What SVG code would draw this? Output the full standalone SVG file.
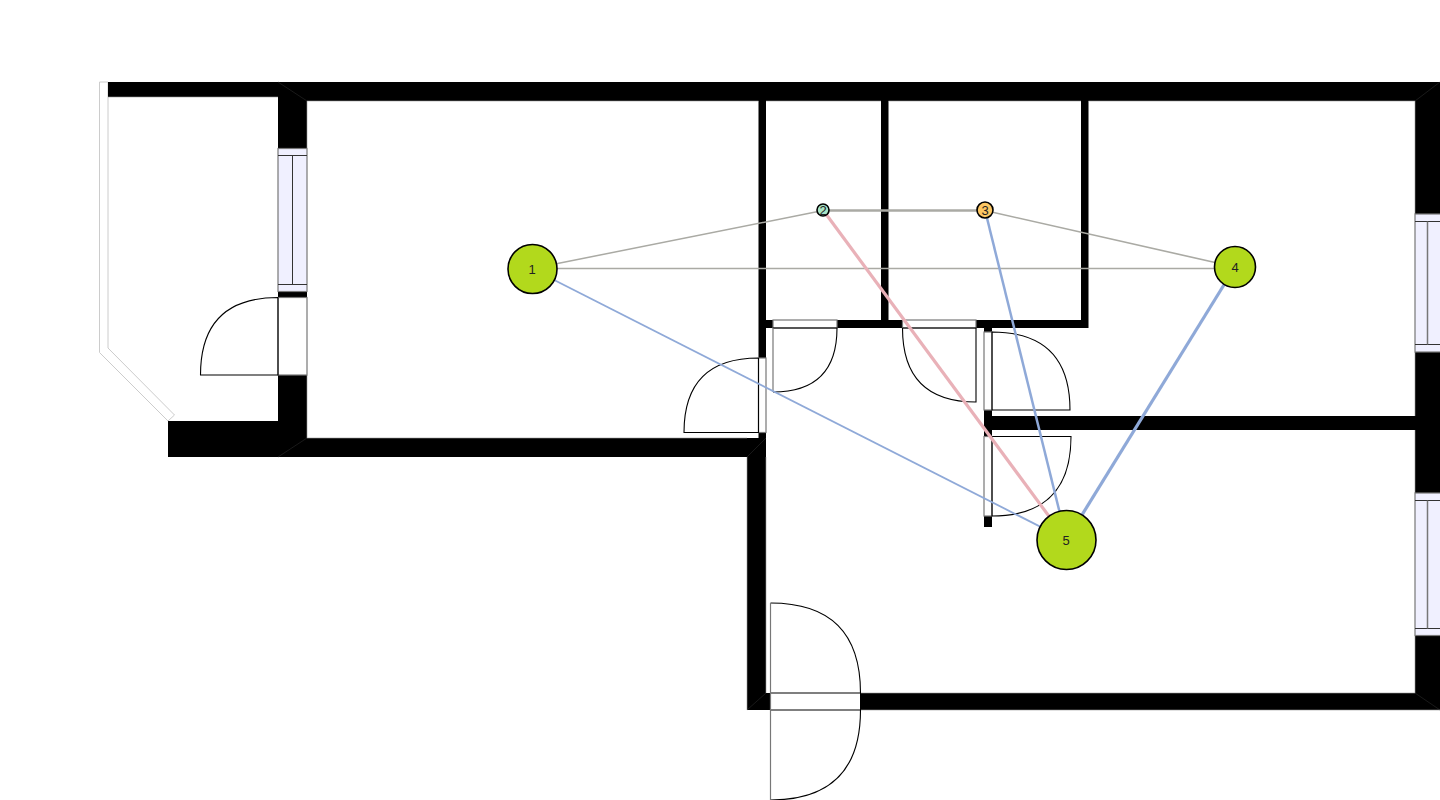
<svg xmlns="http://www.w3.org/2000/svg" width="1440" height="800" viewBox="0 0 1440 800">
<style>
.wall{fill:#000;stroke:none}
.edge{stroke:#999;stroke-width:.6;fill:none}
.rail{fill:#fff;stroke:#ccc;stroke-width:1}
.door{fill:#fff;stroke:#777;stroke-width:1.2}
.leaf{fill:none;stroke:#000;stroke-width:1.1}
.win{fill:#f0f0ff;stroke:#777;stroke-width:1.2}
.wl{fill:none;stroke:#333;stroke-width:1}
.node{stroke:#000;stroke-width:1.6}
.big{fill:#b2d91c}
.lbl{font-family:"Liberation Sans",Arial,sans-serif;font-size:13px;text-anchor:middle;fill:#222}
.g{stroke:#aaaaa4;fill:none}
.b{stroke:#8fa9d8;fill:none}
.p{stroke:#e9b1b8;fill:none}
</style>
<rect width="1440" height="800" fill="#fff"/>
<g id="plan">
<path class="rail" d="M99.500 82H108V348L174.500 415L168 421L99.500 352.500Z"/>
<g id="walls">
<rect class="wall" x="108" y="82" width="1332" height="15"/>
<rect class="wall" x="278" y="82" width="1162" height="19"/>
<rect class="wall" x="168" y="421" width="139" height="36"/>
<rect class="wall" x="278" y="82" width="29" height="375"/>
<rect class="wall" x="278" y="438" width="488" height="19"/>
<rect class="wall" x="747" y="438" width="19" height="272"/>
<rect class="wall" x="758.500" y="101" width="7.500" height="337"/>
<rect class="wall" x="747" y="693" width="693" height="17"/>
<rect class="wall" x="1415" y="82" width="25" height="628"/>
<rect class="wall" x="766" y="320" width="322" height="8"/>
<rect class="wall" x="881" y="101" width="7.500" height="220"/>
<rect class="wall" x="1081" y="101" width="7.500" height="227"/>
<rect class="wall" x="984" y="328" width="8" height="199"/>
<rect class="wall" x="992" y="416" width="423" height="14"/>
<path d="M278 82L307 101M1440 82L1415 101M278 457L307 438M766 438L747 457M747 710L766 693M1415 693L1440 710" stroke="#2a2a2a" stroke-width=".6" fill="none"/>
<path class="edge" d="M307 101H758.500M766 101H881M888.500 101H1081M1088.500 101H1415M307 101V148M307 375V438M307 438H747M1415 101V214M1415 352V416M1415 430V493M1415 636V693M747 457V710M766 457V693M860 693H1415M860 710H1440M108 97H278"/>
</g>
<g id="windows">
<rect class="win" x="278" y="148.500" width="29" height="143"/><path class="wl" d="M278 155.500H307M278 284.500H307M292.500 155.500V284.500"/>
<rect class="win" x="1415" y="214" width="30" height="138"/><path class="wl" d="M1415 221.500H1440M1415 344.500H1440"/><path d="M1427.500 221.500V344.500" stroke="#777" stroke-width="1.500"/>
<rect class="win" x="1415" y="493" width="30" height="142.500"/><path class="wl" d="M1415 500.500H1440M1415 628.500H1440"/><path d="M1427.500 500.500V628.500" stroke="#777" stroke-width="1.500"/>
</g>
<g id="doors">
<rect class="door" x="278" y="297.500" width="29" height="77.500"/><path class="leaf" d="M278 297.500C226 297.500 200.500 323 200.500 375H278V297.500"/>
<rect class="door" x="758.500" y="358" width="7.500" height="74.500"/><path class="leaf" d="M758.500 358C708.500 358 684 382.500 684 432.500H758.500V358"/>
<rect class="door" x="773" y="320" width="64" height="8"/><path class="leaf" d="M773 328H837C837 371 816 392 773 392"/><path d="M773 328V392" stroke="#777" stroke-width="1.200"/>
<rect class="door" x="902.500" y="320" width="73.500" height="8"/><path class="leaf" d="M902.500 328H976V402C927 402 902.500 377 902.500 328"/>
<rect class="door" x="984" y="332" width="8" height="78"/><path class="leaf" d="M992 332C1044 332 1070 358 1070 410H992V332"/>
<rect class="door" x="984" y="436.500" width="8" height="79.500"/><path class="leaf" d="M992 436.500H1071C1071 489.500 1045 516 992 516V436.500"/>
<rect x="770.500" y="693" width="90" height="17" fill="#fff" stroke="#000" stroke-width="1"/>
<path class="leaf" d="M770.500 603C830.500 603 860.500 633 860.500 693M860.500 710C860.500 770 830.500 800 770.500 800"/>
<path d="M770.500 603V800" stroke="#777" stroke-width="1.200"/>
</g>
</g>
<g id="connectors">
<path class="g" stroke-width="1.500" d="M532.500 268.500L823 210.500"/>
<path class="g" stroke-width="1.500" d="M532.500 268.500H1235"/>
<path class="g" stroke-width="2.500" d="M823 210.500H985"/>
<path class="g" stroke-width="1.600" d="M985 210.500L1235 267"/>
<path class="b" stroke-width="1.800" d="M532.500 269L1066.500 540"/>
<path class="p" stroke-width="3.200" d="M823 210L1066.500 540"/>
<path class="b" stroke-width="2.500" d="M985 210L1066.500 540"/>
<path class="b" stroke-width="3.200" d="M1235 267L1066.500 540"/>
</g>
<g id="n1"><circle class="node big" cx="532.500" cy="269" r="24.500"/><text class="lbl" x="532" y="274">1</text></g>
<g id="n2"><circle class="node" cx="823" cy="210" r="6" fill="#a8e4c6"/><text class="lbl" x="823" y="214.500">2</text></g>
<g id="n3"><circle class="node" cx="985" cy="210" r="8" fill="#fdc763"/><text class="lbl" x="985" y="214.500">3</text></g>
<g id="n4"><circle class="node big" cx="1235" cy="267" r="20.500"/><text class="lbl" x="1235" y="272">4</text></g>
<g id="n5"><circle class="node big" cx="1066.500" cy="540" r="29.500"/><text class="lbl" x="1066" y="545">5</text></g>
</svg>
